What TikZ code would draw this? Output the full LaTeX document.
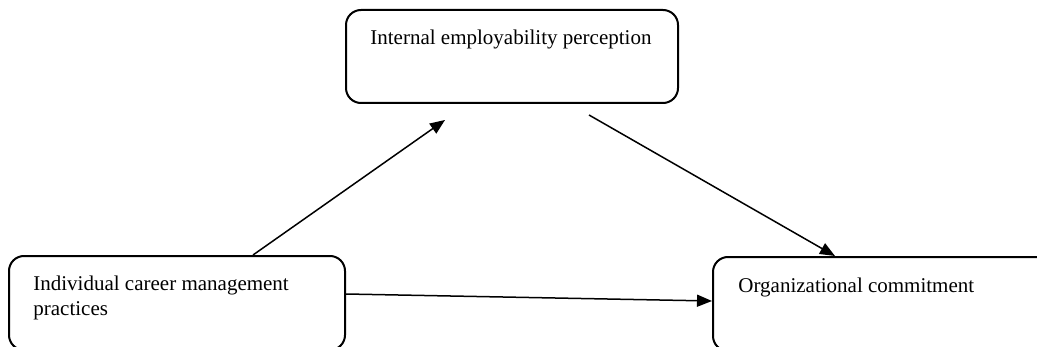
\documentclass[tikz,border=0pt]{standalone}
\usepackage{fontspec}
\setmainfont{Liberation Serif}
\usepackage{xcolor}
\usetikzlibrary{calc}
\usetikzlibrary{arrows.meta}
\tikzstyle{varbox} = [draw=black, fill=white, line width=1pt,
rectangle, rounded corners=7.5pt, inner sep=0pt, anchor=north west]
\tikzstyle{vartext} = [inner sep=0pt, anchor=base west, align=left,
font=\fontsize{10.5}{12.5}\selectfont]
\tikzstyle{path} = [draw=black, line width=0.75pt,
-{Triangle[length=7.5pt,width=6pt]}]

\begin{document}
\begin{tikzpicture}[x=0.5pt,y=-0.5pt]
        \useasboundingbox (0,0) rectangle (1037,347);
        \clip (0,0) rectangle (1037,347);
        % the three variables
        \node [varbox, minimum width=166pt, minimum height=46.5pt] (iep) at (345,9) {};
        \node [varbox, minimum width=168pt, minimum height=47pt] (icm) at (8,255) {};
        \node [varbox, minimum width=170pt, minimum height=47pt] (oc) at (712,256) {};
        \node [vartext] (iept) at ($(iep.north west)+(25,36)$) {Internal employability perception};
        % base of a two-line node sits on its last line
        \node [vartext] (icmt) at ($(icm.north west)+(25,60)$) {Individual career management\\practices};
        \node [vartext] (oct) at ($(oc.north west)+(26,36)$) {Organizational commitment};
        % arrow ends
        \coordinate (a1) at ($(icm.north west)+(245,0)$);
        \coordinate (b1) at ($(iep.south west)+(100,16)$);
        \coordinate (a2) at ($(iep.south west)+(244,11)$);
        \coordinate (b2) at ($(oc.north west)+(123,0)$);
        \coordinate (a3) at ($(icm.north east)+(0,39)$);
        \coordinate (b3) at ($(oc.north west)+(0,45)$);
        \draw [path] (a1) -- (b1);
        \draw [path] (a2) -- (b2);
        \draw [path] (a3) -- (b3);
    \end{tikzpicture}
\end{document}
